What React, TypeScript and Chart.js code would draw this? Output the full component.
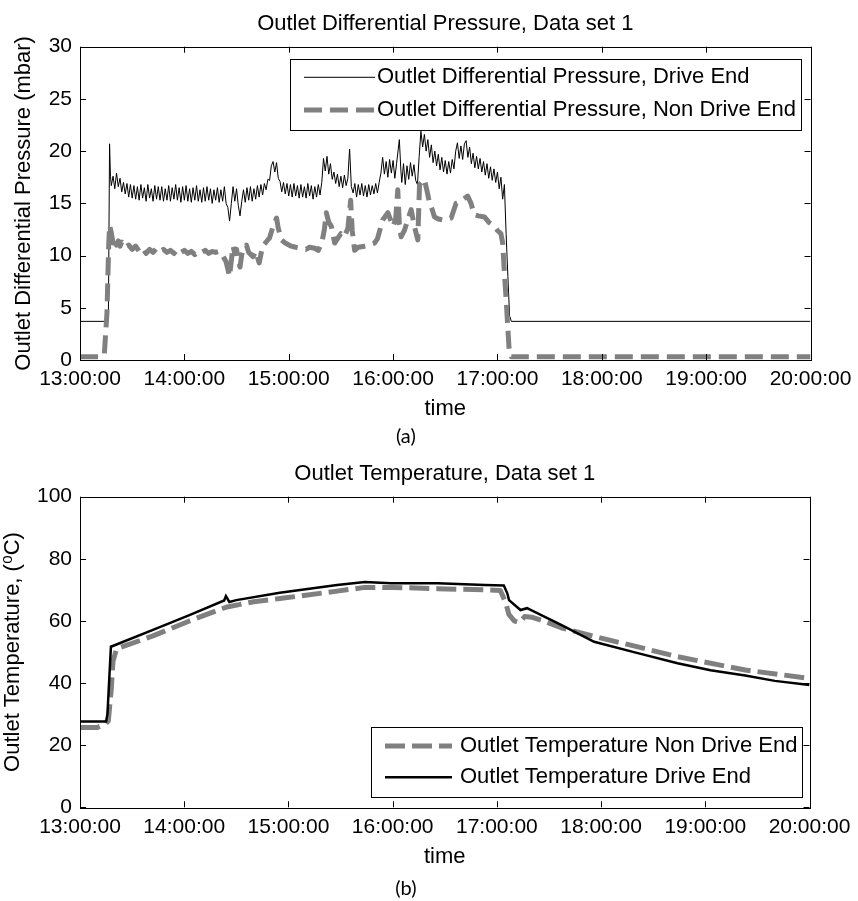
import React, { useEffect, useRef } from 'react';
import { Chart, registerables } from 'chart.js';

Chart.register(...registerables);

// x values are minutes after 13:00:00
const timeTickLabels = ['13:00:00', '14:00:00', '15:00:00', '16:00:00', '17:00:00', '18:00:00', '19:00:00', '20:00:00'];

// Outlet differential pressure, drive end (mbar)  [minute, value]
const pressureDriveEnd: [number, number][] = [
  [0, 3.7], [16.3, 3.7], [17, 20.7], [17.5, 17.6], [18, 16.7], [19, 17.6], [20, 16.4], [21, 17.9], [22, 16.6], [23, 17.4],
  [24, 16.1], [25, 17.0], [26, 15.9], [27, 16.9], [28, 15.6], [29, 16.8], [30, 15.5], [31, 16.7], [32, 15.4], [33, 16.6],
  [34, 15.3], [35, 16.8], [36, 15.5], [37, 16.5], [38, 15.2], [39, 16.8], [40, 15.5], [41, 16.4], [42, 15.2], [43, 16.7],
  [44, 15.4], [45, 16.6], [46, 15.3], [47, 16.6], [48, 15.2], [49, 16.4], [50, 15.3], [51, 16.7], [52, 15.2], [53, 16.5],
  [54, 15.4], [55, 16.8], [56, 15.3], [57, 16.5], [58, 15.1], [59, 16.6], [60, 15.3], [61, 16.7], [62, 15.2], [63, 16.4],
  [64, 15.1], [65, 16.5], [66, 15.3], [67, 16.7], [68, 15.2], [69, 16.3], [70, 15.1], [71, 16.5], [72, 15.2], [73, 16.6],
  [74, 15.3], [75, 16.4], [76, 15.0], [77, 16.3], [78, 15.3], [79, 16.5], [80, 15.1], [81, 16.3], [82, 15.2], [83, 16.6],
  [84, 15.0], [85, 14.6], [86, 13.3], [87, 15.0], [88, 16.6], [89, 15.2], [90, 16.4], [91, 14.8], [92, 13.8], [93, 15.2],
  [94, 16.3], [95, 15.1], [96, 16.5], [97, 15.3], [98, 16.6], [99, 15.2], [100, 16.4], [101, 15.4], [102, 16.7], [103, 15.6],
  [104, 16.8], [105, 15.8], [106, 16.9], [107, 16.3], [108, 17.3], [109, 17.2], [110, 18.6], [111, 19.0], [112, 18.0], [113, 18.9],
  [114, 17.4], [115, 17.1], [116, 16.1], [117, 17.0], [118, 15.9], [119, 16.9], [120, 15.7], [121, 16.8], [122, 15.6], [123, 16.9],
  [124, 15.7], [125, 16.7], [126, 15.5], [127, 16.8], [128, 15.6], [129, 16.6], [130, 15.5], [131, 16.9], [132, 15.7], [133, 16.7],
  [134, 15.4], [135, 16.6], [136, 15.6], [137, 16.8], [138, 15.8], [139, 17.0], [140, 19.3], [141, 18.1], [142, 19.5], [143, 17.8],
  [144, 18.8], [145, 17.3], [146, 18.0], [147, 16.9], [148, 17.8], [149, 16.6], [150, 17.6], [151, 16.5], [152, 17.7], [153, 16.7],
  [154, 17.4], [155, 20.2], [156, 16.6], [157, 16.0], [158, 16.9], [159, 15.6], [160, 16.8], [161, 15.8], [162, 16.9], [163, 15.7],
  [164, 16.7], [165, 15.6], [166, 16.8], [167, 15.8], [168, 16.7], [169, 15.9], [170, 16.9], [171, 16.0], [172, 17.0], [173, 17.9],
  [174, 19.4], [175, 17.8], [176, 19.0], [177, 17.5], [178, 19.2], [179, 17.9], [180, 19.1], [181, 17.4], [182, 18.8], [183.6, 21.1],
  [184.5, 18.1], [185, 17.0], [186, 18.8], [187, 16.8], [188, 18.6], [189, 17.3], [190, 18.9], [191, 17.6], [192, 18.7], [193, 17.2],
  [194, 16.8], [195, 19.5], [196, 21.9], [197, 20.4], [198, 21.6], [199, 20.0], [200, 21.1], [201, 19.4], [202, 20.6], [203, 18.9],
  [204, 20.0], [205, 18.6], [206, 19.7], [207, 18.2], [208, 19.4], [209, 18.0], [210, 19.1], [211, 17.8], [212, 19.0], [213, 17.9],
  [214, 19.2], [215, 18.3], [216, 20.0], [217, 20.8], [218, 19.3], [219, 20.5], [220, 19.2], [221, 20.7], [222, 21.0], [223, 19.4],
  [224, 20.4], [225, 18.8], [226, 19.8], [227, 18.4], [228, 19.5], [229, 18.3], [230, 19.3], [231, 18.0], [232, 19.0], [233, 17.7],
  [234, 18.8], [235, 17.4], [236, 18.5], [237, 17.2], [238, 18.3], [239, 17.0], [240, 18.0], [241, 16.4], [242, 17.5], [243, 15.4],
  [244, 16.8], [245, 12.0], [246, 8.0], [247, 4.2], [248, 3.7], [420, 3.7],
];

// Outlet differential pressure, non drive end (mbar)  [minute, value]
const pressureNonDriveEnd: [number, number][] = [
  [0, 0.3], [12, 0.3], [14, 0.6], [15.5, 4.5], [16.5, 11.0], [17, 12.9], [18, 12.2], [19, 11.2], [20, 11.7], [21, 11.0],
  [22, 11.4], [23, 10.9], [24, 11.3], [26, 10.8], [28, 11.0], [30, 10.6], [32, 10.9], [34, 10.4], [36, 10.7], [38, 10.2],
  [40, 10.6], [42, 10.3], [44, 10.7], [46, 10.4], [48, 10.6], [50, 10.3], [52, 10.5], [54, 10.2], [56, 10.6], [58, 10.3],
  [60, 10.5], [62, 10.2], [64, 10.4], [66, 10.1], [68, 10.4], [70, 10.3], [72, 10.5], [74, 10.2], [76, 10.4], [78, 10.3],
  [80, 10.4], [82, 10.0], [84, 9.4], [86, 8.0], [87, 9.5], [88, 10.9], [89, 10.2], [90, 10.6], [91, 9.6], [92, 8.9],
  [93, 10.1], [94, 10.6], [95.7, 11.0], [97, 10.3], [99.5, 9.9], [101, 10.4], [103, 9.3], [105, 10.9], [107, 11.3], [109, 11.7],
  [111, 12.8], [113, 13.6], [114, 12.6], [115.8, 11.5], [118, 11.2], [121.5, 10.9], [124, 10.8], [127, 10.7], [130, 10.6], [132, 10.8],
  [135, 10.7], [137, 10.5], [139, 11.2], [140.5, 12.5], [141.6, 14.1], [143, 13.2], [144.5, 12.8], [146.4, 11.2], [148, 11.6], [150, 12.1],
  [152, 11.8], [154, 12.6], [155.6, 15.3], [156.5, 12.4], [157.9, 10.5], [160, 10.8], [163.6, 10.9], [166, 11.0], [169.3, 11.2], [171, 11.6],
  [172.5, 12.5], [174, 13.4], [177, 14.1], [180, 12.8], [181.5, 13.5], [182.7, 16.3], [183.6, 13.0], [184.6, 11.8], [186.5, 12.4], [188.4, 13.4],
  [190.4, 14.4], [192, 13.0], [194.2, 11.5], [195.2, 16.8], [198, 17.3], [199.5, 16.2], [201, 15.0], [202.5, 14.4], [203.8, 13.7], [206, 13.5],
  [209.5, 13.4], [211, 13.5], [213.4, 13.6], [216.2, 15.0], [219, 15.2], [222.9, 15.7], [224.8, 15.0], [226.7, 13.9], [229, 13.8], [232.5, 13.7],
  [235, 13.2], [238.2, 12.8], [240, 12.4], [242, 12.1], [243, 11.2], [244, 8.3], [245, 5.8], [246, 3.0], [246.8, 0.8], [248, 0.3],
  [420, 0.3],
];

// Outlet temperature, drive end (°C)  [minute, value]
const temperatureDriveEnd: [number, number][] = [
  [0, 27.6], [15, 27.6], [15.8, 30], [17.8, 51.7], [42, 57.1], [63, 61.9], [83, 66.6], [84, 68.0], [86, 66.1], [90, 66.7],
  [115, 69.1], [148, 71.6], [164, 72.5], [179, 72.1], [206, 72.1], [233, 71.6], [244, 71.4], [246, 68.9], [247, 66.7], [253.6, 63.5],
  [257.4, 64.1], [260, 63.4], [277, 58.7], [296, 53.3], [320, 49.8], [344, 46.4], [363, 44.1], [383, 42.4], [400, 40.7], [420, 39.4],
];

// Outlet temperature, non drive end (°C)  [minute, value]
const temperatureNonDriveEnd: [number, number][] = [
  [0, 25.7], [10, 25.7], [15, 27.0], [16.3, 27.8], [18, 38], [19, 47], [21, 51], [42, 55.2], [63, 60], [84, 64.4],
  [100, 66.2], [115, 67.2], [148, 69.6], [164, 70.8], [180, 70.8], [206, 70.4], [233, 70.0], [242, 69.8], [245, 66], [247, 62],
  [250, 60], [253, 59.5], [256, 61.4], [260, 61.2], [268, 59.8], [277, 57.8], [296, 55.0], [320, 51.8], [344, 48.5], [383, 44.2],
  [420, 41.5],
];

const FONT = "'Liberation Sans', Arial, 'DejaVu Sans', sans-serif";

const toXY = (pairs: [number, number][]) => pairs.map(([x, y]) => ({ x, y }));

const matlabFrame = {
  id: 'matlabFrame',
  afterDatasetsDraw(chart: any) {
    const { ctx, chartArea: a, scales } = chart;
    const len = 6;
    ctx.save();
    ctx.strokeStyle = '#000';
    ctx.lineWidth = 1;
    ctx.setLineDash([]);
    ctx.beginPath();
    for (const t of scales.x.ticks) {
      const px = Math.round(scales.x.getPixelForValue(t.value)) + 0.5;
      ctx.moveTo(px, a.bottom);
      ctx.lineTo(px, a.bottom - len);
      ctx.moveTo(px, a.top);
      ctx.lineTo(px, a.top + len);
    }
    for (const t of scales.y.ticks) {
      const py = Math.round(scales.y.getPixelForValue(t.value)) + 0.5;
      ctx.moveTo(a.left, py);
      ctx.lineTo(a.left + len, py);
      ctx.moveTo(a.right, py);
      ctx.lineTo(a.right - len, py);
    }
    ctx.stroke();
    ctx.strokeRect(Math.round(a.left) + 0.5, Math.round(a.top) + 0.5, Math.round(a.right - a.left), Math.round(a.bottom - a.top));
    ctx.restore();
  },
};

const boxLegend = {
  id: 'boxLegend',
  afterDraw(chart: any, _args: any, opts: any) {
    if (!opts || !opts.box) return;
    const { ctx } = chart;
    const [bx, by, bw, bh] = opts.box;
    ctx.save();
    ctx.fillStyle = '#fff';
    ctx.fillRect(bx, by, bw, bh);
    ctx.strokeStyle = '#000';
    ctx.lineWidth = 1;
    ctx.setLineDash([]);
    ctx.strokeRect(Math.round(bx) + 0.5, Math.round(by) + 0.5, Math.round(bw), Math.round(bh));
    const order: number[] = opts.order;
    const rowsY: number[] = opts.rowsY;
    order.forEach((idx: number, i: number) => {
      const ds = chart.data.datasets[idx];
      const y = rowsY[i];
      ctx.beginPath();
      ctx.strokeStyle = ds.borderColor;
      ctx.lineWidth = ds.borderWidth;
      ctx.setLineDash(ds.borderDash || []);
      ctx.moveTo(opts.sampleX0, y);
      ctx.lineTo(opts.sampleX1, y);
      ctx.stroke();
      ctx.setLineDash([]);
      ctx.fillStyle = '#000';
      ctx.font = `22px ${FONT}`;
      ctx.textAlign = 'left';
      ctx.textBaseline = 'middle';
      ctx.fillText(ds.label, opts.textX, y);
    });
    ctx.restore();
  },
};

function makeOptions(cfg: {
  title: string;
  subtitle: string;
  yTitle: string;
  yMax: number;
  yStep: number;
  yTitlePad: number;
  xHeight: number;
  xTitlePadBottom: number;
  xTickPad: number;
  subPadBottom: number;
  legend: any;
}) {
  return {
    responsive: false,
    animation: false as const,
    layout: { padding: { left: 0, right: 46.3, top: 0, bottom: 0 } },
    elements: { point: { radius: 0 }, line: { tension: 0 } },
    plugins: {
      legend: { display: false },
      tooltip: { enabled: false },
      title: {
        display: true,
        fullSize: false,
        text: cfg.title,
        color: '#000',
        font: { family: FONT, size: 22, weight: 'normal' as const, lineHeight: 1.2 },
        padding: { top: 10.4, bottom: 9.9 },
      },
      subtitle: {
        display: true,
        position: 'bottom' as const,
        text: cfg.subtitle,
        color: '#000',
        font: { family: "Lato, 'Open Sans', sans-serif", size: 20, weight: 'normal' as const, lineHeight: 1.2 },
        padding: { top: 0, bottom: cfg.subPadBottom },
      },
      boxLegend: cfg.legend,
    },
    scales: {
      x: {
        type: 'linear' as const,
        min: 0,
        max: 420,
        grid: { display: false, drawTicks: false },
        border: { display: false },
        ticks: {
          stepSize: 60,
          autoSkip: false,
          maxRotation: 0,
          padding: cfg.xTickPad,
          color: '#000',
          font: { family: FONT, size: 21, lineHeight: 1.2 },
          callback: (v: any) => timeTickLabels[Math.round(Number(v) / 60)],
        },
        title: {
          display: true,
          text: 'time',
          color: '#000',
          font: { family: FONT, size: 22, lineHeight: 1.2 },
          padding: { top: 0, bottom: cfg.xTitlePadBottom },
        },
        afterFit: (scale: any) => {
          scale.height = cfg.xHeight;
        },
      },
      y: {
        type: 'linear' as const,
        min: 0,
        max: cfg.yMax,
        grid: { display: false, drawTicks: false },
        border: { display: false },
        ticks: {
          stepSize: cfg.yStep,
          padding: 8,
          color: '#000',
          font: { family: FONT, size: 21, lineHeight: 1.2 },
        },
        title: {
          display: true,
          text: cfg.yTitle,
          color: '#000',
          font: { family: FONT, size: 22, lineHeight: 1.2 },
          padding: { top: cfg.yTitlePad, bottom: 0 },
        },
        afterFit: (scale: any) => {
          scale.width = 80;
        },
      },
    },
  };
}

export default function App() {
  const refA = useRef<HTMLCanvasElement>(null);
  const refB = useRef<HTMLCanvasElement>(null);

  useEffect(() => {
    const chartA = new Chart(refA.current!, {
      type: 'line',
      data: {
        datasets: [
          {
            label: 'Outlet Differential Pressure, Non Drive End',
            data: toXY(pressureNonDriveEnd),
            borderColor: '#808080',
            borderWidth: 5,
            borderDash: [18, 8],
            borderJoinStyle: 'round',
            fill: false,
          },
          {
            label: 'Outlet Differential Pressure, Drive End',
            data: toXY(pressureDriveEnd),
            borderColor: '#000000',
            borderWidth: 1,
            fill: false,
          },
        ],
      },
      options: makeOptions({
        title: 'Outlet Differential Pressure, Data set 1',
        subtitle: '(a)',
        yTitle: 'Outlet Differential Pressure (mbar)',
        yMax: 30,
        yStep: 5,
        yTitlePad: 10.8,
        xHeight: 64.6,
        xTitlePadBottom: 2.4,
        xTickPad: 6.6,
        subPadBottom: 1.4,
        legend: {
          box: [290, 58.7, 511, 70.6],
          order: [1, 0],
          rowsY: [77.3, 110],
          sampleX0: 304,
          sampleX1: 375,
          textX: 377,
        },
      }) as any,
      plugins: [matlabFrame, boxLegend],
    });

    const chartB = new Chart(refB.current!, {
      type: 'line',
      data: {
        datasets: [
          {
            label: 'Outlet Temperature Drive End',
            data: toXY(temperatureDriveEnd),
            borderColor: '#000000',
            borderWidth: 2.5,
            fill: false,
          },
          {
            label: 'Outlet Temperature Non Drive End',
            data: toXY(temperatureNonDriveEnd),
            borderColor: '#808080',
            borderWidth: 5,
            borderDash: [20, 7],
            borderJoinStyle: 'round',
            fill: false,
          },
        ],
      },
      options: makeOptions({
        title: 'Outlet Temperature, Data set 1',
        subtitle: '(b)',
        yTitle: 'Outlet Temperature, (⁰C)',
        yMax: 100,
        yStep: 20,
        yTitlePad: 0,
        xHeight: 69.2,
        xTitlePadBottom: 6.3,
        xTickPad: 7.6,
        subPadBottom: 0.5,
        legend: {
          box: [371, 277, 430.7, 70],
          order: [1, 0],
          rowsY: [296, 327.3],
          sampleX0: 385,
          sampleX1: 452,
          textX: 460,
        },
      }) as any,
      plugins: [matlabFrame, boxLegend],
    });

    return () => {
      chartA.destroy();
      chartB.destroy();
    };
  }, []);

  return (
    <div style={{ position: 'absolute', left: 0, top: 0, width: 858, height: 901, background: '#fff' }}>
      <canvas ref={refA} width={858} height={450} style={{ position: 'absolute', left: 0, top: 0, width: 858, height: 450 }} />
      <canvas ref={refB} width={858} height={451} style={{ position: 'absolute', left: 0, top: 450, width: 858, height: 451 }} />
    </div>
  );
}
